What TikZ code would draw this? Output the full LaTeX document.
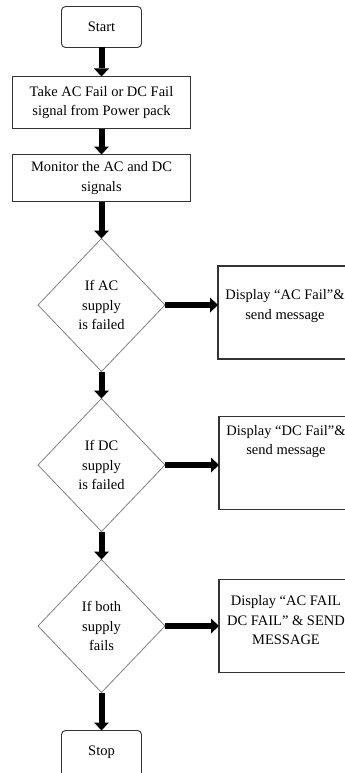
\documentclass[tikz,border=0pt]{standalone}
\usepackage{fontspec}
\setmainfont{Liberation Serif}
\usetikzlibrary{shapes.geometric, positioning, arrows.meta}

\begin{document}
\begin{tikzpicture}[x=1pt, y=1pt,
	every node/.style={font=\fontsize{14.5}{19.5}\selectfont, align=center, outer sep=0pt},
	term/.style={draw=gray!40!black, line width=0.9pt, rounded corners=4pt, minimum width=80pt, minimum height=41pt, inner sep=0pt},
	proc/.style={draw=black!80, line width=1.1pt, minimum width=178pt, inner sep=0pt},
	decision/.style={diamond, draw=gray, line width=0.8pt, minimum width=127pt, minimum height=133pt, inner sep=0pt},
	outbox/.style={draw=black!80, line width=1.1pt, minimum width=134pt, minimum height=93pt},
	flow/.style={line width=6pt, -{Triangle[length=8pt, width=15pt, line width=0pt]}}]
	\useasboundingbox (0,0) rectangle (345,-773);
	
	\node[term] (start) at (101.5,-27) {Start};
	\node[proc, minimum height=52pt] (take) [below=29pt of start] {Take AC Fail or DC Fail\\signal from Power pack};
	\node[proc, minimum height=47pt] (monitor) [below=26pt of take] {Monitor the AC and DC\\signals};
	\node[decision] (ifac) [below=37pt of monitor] {If AC\\supply\\is failed};
	\node[decision] (ifdc) [below=27pt of ifac] {If DC\\supply\\is failed};
	\node[decision] (ifboth) [below=28pt of ifdc] {If both\\supply\\fails};
	% bottom of the stop box is cut off by the page
	\node[term, minimum height=50pt, text depth=10pt] (stop) [below=38pt of ifboth] {Stop};
	
	% output boxes, text sits near the top
	\node[outbox] (showac) [right=53pt of ifac, yshift=-7.5pt] {};
	\node[outbox] (showdc) [right=54pt of ifdc, yshift=2pt] {};
	\node[outbox] (showboth) [right=54pt of ifboth] {};
	\node (acmsg) at ([yshift=-40pt]showac.north) {Display “AC Fail”\&\\send message};
	\node (dcmsg) at ([yshift=-25pt]showdc.north) {Display “DC Fail”\&\\send message};
	\node (bothmsg) at ([yshift=-41pt]showboth.north) {Display “AC FAIL\\DC FAIL” \& SEND\\MESSAGE};
	
	\draw[flow] (start) -- (take);
	\draw[flow] (take) -- (monitor);
	\draw[flow] (monitor) -- (ifac);
	\draw[flow] (ifac) -- (ifdc);
	\draw[flow] (ifdc) -- (ifboth);
	\draw[flow] (ifboth) -- (stop);
	\draw[flow] (ifac) -- (ifac -| showac.west);
	\draw[flow] (ifdc) -- (ifdc -| showdc.west);
	\draw[flow] (ifboth) -- (ifboth -| showboth.west);
\end{tikzpicture}
\end{document}
